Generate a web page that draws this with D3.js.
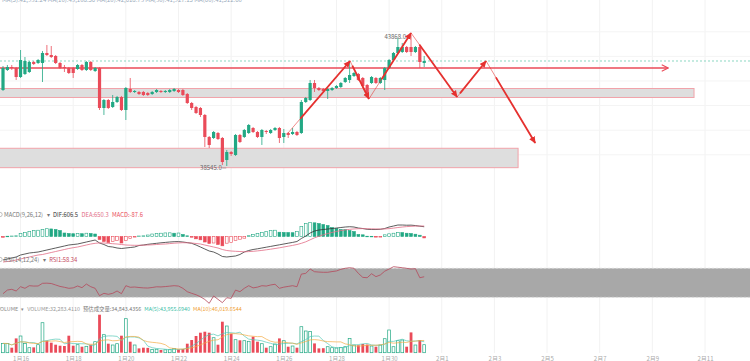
<!DOCTYPE html>
<html><head><meta charset="utf-8">
<script src="https://cdn.jsdelivr.net/npm/d3@7"></script>
<style>body{margin:0;background:#fff;overflow:hidden}svg{display:block;font-family:"Noto Sans CJK SC","Noto Sans",sans-serif}</style>
</head><body><svg id="c" width="750" height="361"></svg>
<script>
// ---- data (4h candles, index 0 = 1月15 08:00) ----
const opens=[41633,42446,42568,42527,42161,42283,42365,42771,42730,42730,43137,43055,43015,42730,42568,42527,42527,42487,42649,42446,42771,42405,42527,40902,41227,40943,41146,41349,40821,41674,41552,41552,41552,41511,41471,41552,41593,41552,41552,41593,41633,41633,41471,41105,40943,40902,40618,39724,39683,39886,39683,38789,39114,38992,39805,39724,39886,40089,39927,39724,39967,39886,40008,40089,39724,39886,39846,39927,39886,41146,41227,41918,41715,41674,41593,41633,41715,41755,41958,42040,42202,42283,42121,41836,41918,42121,41918,42040,42527,42852,43137,43177,43380,43380,43177,43380,42730];
const highs=[42608,42649,42649,42568,43258,42974,42812,42812,42893,43218,43462,43421,43055,42771,42649,42568,42568,42690,42690,42812,42812,42568,42568,41268,41268,41430,41390,41390,41755,42121,41633,41593,41593,41552,41593,41674,41633,41633,41674,41715,41674,41674,41511,41146,40983,40943,40658,39764,39967,39927,39724,39195,39155,39846,39846,40049,40252,40130,39967,40049,40008,40049,40130,40130,40049,39927,40089,39967,41227,41349,42040,42040,41755,41715,41715,41755,41836,41958,42161,42771,42365,42324,42161,41877,42202,42161,42161,42568,42893,43177,43746,43543,43421,43868,43421,43421,43015];
const lows=[41593,42405,42446,42040,42121,42243,42324,42649,42690,41958,43015,42933,42690,42487,42365,42283,42121,42446,42405,42405,42405,42365,40821,40618,40861,40902,41105,40780,40414,41511,41511,41430,41390,41390,41430,41511,41511,41511,41511,41552,41511,41390,41064,40821,40658,40536,39317,39277,39642,39602,38586,38545,38952,38952,39480,39683,39846,39886,39683,39399,39846,39846,39967,39480,39480,39683,39805,39764,39846,41105,41186,41552,41593,41552,41268,41593,41674,41715,41918,41918,42161,41999,41755,41349,41877,41877,41877,41633,42487,42812,43096,43137,43137,43015,43137,42527,42568];
const closes=[42527,42568,42527,42161,42852,42812,42771,42690,42852,43137,43055,42974,42730,42527,42527,42324,42324,42649,42446,42771,42446,42527,40902,41227,40902,41146,41349,40821,41715,41552,41593,41471,41430,41430,41552,41633,41552,41593,41633,41674,41552,41430,41105,40902,40699,40618,39724,39399,39927,39642,38708,39114,39033,39805,39521,40008,40211,39927,39724,40008,39927,40008,40089,39683,39886,39805,39927,39805,41146,41308,41918,41715,41633,41593,41674,41715,41796,41918,42121,42243,42324,42040,41796,41511,42161,41918,42121,42527,42852,43137,43380,43380,43177,43177,43380,42771,42812];
const volumes=[37500,36800,20200,57700,67400,37500,20200,21500,32300,121000,48400,40400,32300,28200,27000,68600,28200,32300,24200,25800,32300,44400,153300,72600,36300,31100,36300,68600,137200,44400,31100,17400,20200,19500,13300,14100,10900,11600,12100,17400,13300,15000,36300,51200,67400,80700,84700,80700,60500,32300,125100,107700,76700,52500,50000,48400,46000,64600,44400,36300,20200,24200,35100,57700,48400,24200,27000,20200,104900,87600,86000,37500,17400,18200,24200,20200,19000,21000,24200,57700,31100,30000,35100,33000,27000,24200,31100,56500,91600,24200,48400,51200,24200,81900,31100,51200,32283];
const difs=[-1457,-1395,-1333,-1271,-1147,-1085,-1023,-992,-961,-899,-837,-775,-713,-651,-589,-527,-496,-465,-403,-341,-279,-217,-403,-496,-620,-651,-713,-744,-713,-682,-651,-558,-527,-484,-453,-422,-391,-366,-341,-322,-316,-341,-378,-422,-527,-651,-775,-899,-961,-1085,-1240,-1271,-1240,-1209,-1116,-961,-868,-806,-763,-713,-663,-614,-564,-515,-465,-415,-366,-310,-124,31,217,341,403,434,465,496,527,558,589,608,589,527,496,446,434,434,446,496,589,651,713,713,701,705,680,640,606.5];
const deas=[-1581,-1550,-1519,-1457,-1395,-1333,-1271,-1209,-1147,-1116,-1054,-992,-930,-868,-806,-744,-694,-651,-589,-527,-465,-422,-395,-403,-422,-446,-465,-496,-527,-539,-546,-546,-539,-527,-515,-496,-477,-465,-440,-415,-397,-384,-391,-403,-434,-465,-527,-589,-651,-713,-806,-868,-899,-918,-930,-949,-936,-918,-893,-862,-825,-787,-744,-701,-651,-601,-552,-496,-422,-329,-205,-81,19,105,186,254,316,366,409,446,471,484,490,484,477,471,465,471,490,521,558,589,614,632,645,651,650.3];
const macds=[-45,20,30,45,186,248,310,372,390,434,484,470,434,372,217,186,174,186,174,205,186,155,-186,-310,-372,-310,-248,-403,-248,-124,-31,31,43,93,155,186,205,223,229,205,217,124,43,-43,-143,-205,-341,-434,-403,-496,-577,-415,-372,-248,-167,-105,50,124,186,248,310,372,391,267,254,248,236,310,620,806,868,850,806,744,682,558,496,434,428,372,310,124,105,19,15,-19,-15,105,167,205,248,245,205,186,143,81,-87.6];
const rsis=[35,40,41,38.7,44.6,42.4,46,45.5,45.6,49.3,49.5,49,47,45,43.8,42.4,43,45.6,43.3,48.3,44.6,42.4,32.2,35.5,34.1,35.5,38.7,35,46,43.8,44.2,43.5,43,42.8,43.5,44.5,44.3,44.8,45.4,46,45.5,42.4,37.7,35.5,33.5,30.8,27,21.7,31.8,27.2,22.6,29.4,28.6,40,37.7,42.4,46,43,44,46,45.5,47,48,42.4,44,45,46,44.6,62,63,69,65.3,64.8,64.5,64.5,65.5,66.3,68.6,70,70.8,70,63,57.5,57,62.5,58.5,60.8,66,69,72.2,71.5,70.8,70,69,69.5,57,58.34];
const dateLabels=["1月16","1月18","1月20","1月22","1月24","1月26","1月28","1月30","2月1","2月3","2月5","2月7","2月9","2月11"];
const dateIdx=dateLabels.map((d,i)=>4+12*i);
// drawings (index, price)
const zones=[{i0:-3,i1:157.5,p0:41694,p1:41329},{i0:-3,i1:117.4,p0:39265,p1:38477}];
const resistance={i0:-3,i1:151.6,p:42527};
const zigzag=[[64.96,39886],[79.1,42812],[83.4,41268],[93.0,43950],[103.5,41349],[110.1,42812],[121.3,39480]];
const thinFrac=[0.2,0.12,0.3,0.18,0.1,0.2];

const svg=d3.select('#c');
const n=closes.length;
const UP='#22a884',DN='#ea4b59',AR='#e5312f';
const x=d3.scaleLinear().domain([0,160]).range([3,705]);
const yP=d3.scaleLinear().domain([38545,43868]).range([166,35]);
const yM=d3.scaleLinear().domain([-1600,1000]).range([262.3,220.4]);
const yR=d3.scaleLinear().domain([30,70]).range([297.3,268.3]);
const yV=d3.scaleLinear().domain([0,160000]).range([352.7,313.05]);
const idx=d3.range(n);

const defs=svg.append('defs');
defs.append('marker').attr('id','ah').attr('viewBox','0 0 10 10').attr('refX',9).attr('refY',5)
 .attr('markerWidth',7).attr('markerHeight',7).attr('markerUnits','userSpaceOnUse').attr('orient','auto')
 .append('path').attr('d','M0,0.5L10,5L0,9.5Z').attr('fill',AR);
defs.append('marker').attr('id','ch').attr('viewBox','0 0 10 10').attr('refX',9).attr('refY',5)
 .attr('markerWidth',8).attr('markerHeight',8).attr('markerUnits','userSpaceOnUse').attr('orient','auto')
 .append('path').attr('d','M1,1L9,5L1,9').attr('fill','none').attr('stroke',DN).attr('stroke-width',1.3);

// grid
const g=svg.append('g');
g.selectAll('.vg').data(dateIdx).join('line').attr('x1',d=>x(d)).attr('x2',d=>x(d)).attr('y1',0).attr('y2',353).attr('stroke','#f2f2f2');
g.selectAll('.hg').data([39000,40000,41000,42000,43000,44000]).join('line').attr('x1',0).attr('x2',750).attr('y1',d=>yP(d)).attr('y2',d=>yP(d)).attr('stroke','#f4f4f4');

// top cut text
svg.append('text').attr('x',2).attr('y',2).attr('font-size',6).attr('fill','#9ab').text('MA(5):42,931.24   MA(10):43,108.56   MA(20):42,618.73   MA(30):41,927.15   MA(60):41,512.60');

// zones
svg.selectAll('.zone').data(zones).join('rect').attr('x',d=>x(d.i0)).attr('width',d=>x(d.i1)-x(d.i0))
 .attr('y',d=>yP(d.p0)).attr('height',d=>yP(d.p1)-yP(d.p0)).attr('fill','#dedede').attr('stroke','#f1a3aa').attr('stroke-width',1);
// current price dashed
svg.append('line').attr('x1',0).attr('x2',750).attr('y1',yP(closes[n-1])).attr('y2',yP(closes[n-1]))
 .attr('stroke','#6fcdb2').attr('stroke-dasharray','2,2').attr('stroke-width',0.8);
// resistance
svg.append('line').attr('x1',x(resistance.i0)).attr('x2',x(resistance.i1)).attr('y1',yP(resistance.p)).attr('y2',yP(resistance.p))
 .attr('stroke',DN).attr('stroke-width',1.4).attr('marker-end','url(#ch)');

// candles
const cg=svg.append('g');
cg.selectAll('line').data(idx).join('line').attr('x1',i=>x(i)).attr('x2',i=>x(i)).attr('y1',i=>yP(highs[i])).attr('y2',i=>yP(lows[i]))
 .attr('stroke',i=>closes[i]>=opens[i]?UP:DN).attr('stroke-width',0.8);
cg.selectAll('rect').data(idx).join('rect').attr('x',i=>x(i)-1.6).attr('width',3.2)
 .attr('y',i=>yP(Math.max(opens[i],closes[i]))).attr('height',i=>Math.max(0.8,Math.abs(yP(opens[i])-yP(closes[i]))))
 .attr('fill',i=>closes[i]>=opens[i]?UP:DN);

// hi / lo labels
const hiI=d3.maxIndex(highs), loI=d3.minIndex(lows);
svg.append('line').attr('x1',x(hiI)-4.5).attr('x2',x(hiI)-0.5).attr('y1',yP(highs[hiI])+2).attr('y2',yP(highs[hiI])+2).attr('stroke','#888').attr('stroke-width',0.6);
svg.append('text').attr('x',x(hiI)-5).attr('y',yP(highs[hiI])+4).attr('text-anchor','end').attr('font-size',6).attr('fill','#666').text(d3.format('.1f')(highs[hiI]));
svg.append('line').attr('x1',x(loI)-4.5).attr('x2',x(loI)-0.5).attr('y1',yP(lows[loI])+2).attr('y2',yP(lows[loI])+2).attr('stroke','#888').attr('stroke-width',0.6);
svg.append('text').attr('x',x(loI)-5).attr('y',yP(lows[loI])+4).attr('text-anchor','end').attr('font-size',6).attr('fill','#666').text(d3.format('.1f')(lows[loI]));

// zigzag arrows
const pts=zigzag.map(d=>[x(d[0]),yP(d[1])]);
svg.append('path').attr('d',d3.line()(pts)).attr('fill','none').attr('stroke',AR).attr('stroke-width',0.7).attr('opacity',0.8);
for(let s=0;s<pts.length-1;s++){
  const [a,b]=[pts[s],pts[s+1]],t=thinFrac[s];
  const sx=a[0]+(b[0]-a[0])*t, sy=a[1]+(b[1]-a[1])*t;
  svg.append('line').attr('x1',sx).attr('y1',sy).attr('x2',b[0]).attr('y2',b[1]).attr('stroke',AR).attr('stroke-width',1.8).attr('marker-end','url(#ah)');
}

// header helper: lays texts out one after another
function hdr(x0,y,fs,gap,items){
  let cx=x0;
  items.forEach(it=>{
    const t=svg.append('text').attr('x',cx).attr('y',y).attr('font-size',fs).attr('fill',it[1]).text(it[0]);
    cx+=t.node().getComputedTextLength()+gap;
  });
}

// ---- MACD ----
svg.append('circle').attr('cx',0).attr('cy',214.5).attr('r',2.2).attr('fill','none').attr('stroke','#999').attr('stroke-width',0.6);
hdr(4,217,5.8,3.5,[['MACD(9,26,12)','#777'],['▾','#777'],['DIF:'+difs[n-1],'#333'],['DEA:'+deas[n-1],'#e26d86'],['MACD:'+macds[n-1],'#ea4b59']]);
svg.selectAll('.mb').data(idx).join('rect').attr('class','mb')
 .attr('x',i=>x(i)-1.4).attr('width',2.8)
 .attr('y',i=>Math.min(yM(0),yM(macds[i]))).attr('height',i=>Math.max(0.6,Math.abs(yM(macds[i])-yM(0))))
 .attr('fill',i=>{const inc=i>0&&macds[i]>macds[i-1];return inc?'#fff':(macds[i]>=0?UP:DN);})
 .attr('stroke',i=>macds[i]>=0?UP:DN).attr('stroke-width',0.6);
svg.append('path').attr('d',d3.line().x(i=>x(i)).y(i=>yM(difs[i]))(idx)).attr('fill','none').attr('stroke','#333').attr('stroke-width',0.8);
svg.append('path').attr('d',d3.line().x(i=>x(i)).y(i=>yM(deas[i]))(idx)).attr('fill','none').attr('stroke','#e26d86').attr('stroke-width',0.8);

// ---- RSI ----
svg.append('circle').attr('cx',0).attr('cy',259.5).attr('r',2.2).attr('fill','none').attr('stroke','#999').attr('stroke-width',0.6);
hdr(4,262,5.8,3.5,[['RSI(14,12,24)','#777'],['▾','#777'],['RSI1:'+rsis[n-1],'#c4475a']]);
svg.append('rect').attr('x',0).attr('width',750).attr('y',yR(70)).attr('height',yR(30)-yR(70)).attr('fill','#a8a8a8');
[70,30].forEach(v=>svg.append('line').attr('x1',0).attr('x2',750).attr('y1',yR(v)).attr('y2',yR(v)).attr('stroke','#d6d6d6').attr('stroke-dasharray','2,2').attr('stroke-width',0.8));
svg.append('path').attr('d',d3.line().x(i=>x(i)).y(i=>yR(rsis[i]))(idx)).attr('fill','none').attr('stroke','#b5475a').attr('stroke-width',0.8);

// ---- Volume ----
hdr(-3,311,5.4,3,[['VOLUME','#888'],['▾','#888'],['VOLUME:32,283.4110','#999'],['预估成交量:34,843.4356','#777'],['MA(5):43,955.6940','#3cc0a8'],['MA(10):46,019.6544','#f0a030']]);
svg.selectAll('.vb').data(idx).join('rect').attr('class','vb')
 .attr('x',i=>x(i)-1.4).attr('width',2.8).attr('y',i=>yV(volumes[i])).attr('height',i=>yV(0)-yV(volumes[i]))
 .attr('fill',i=>closes[i]>=opens[i]?'#fff':DN).attr('stroke',i=>closes[i]>=opens[i]?UP:'none').attr('stroke-width',0.7);
const ma=(k)=>idx.map(i=>d3.mean(volumes.slice(Math.max(0,i-k+1),i+1)));
const ma5=ma(5),ma10=ma(10);
svg.append('path').attr('d',d3.line().x(i=>x(i)).y(i=>yV(ma5[i]))(idx)).attr('fill','none').attr('stroke','#55c9b6').attr('stroke-width',0.7);
svg.append('path').attr('d',d3.line().x(i=>x(i)).y(i=>yV(ma10[i]))(idx)).attr('fill','none').attr('stroke','#f3ac45').attr('stroke-width',0.7);

// date axis
const ax=d3.axisBottom(x).tickValues(dateIdx).tickFormat((d,i)=>dateLabels[i]).tickSize(0);
const axg=svg.append('g').attr('transform','translate(0,355)').call(ax);
axg.select('.domain').remove();
axg.selectAll('text').attr('font-size',6).attr('fill','#aaa').attr('font-family','"Noto Sans CJK SC",sans-serif').attr('dy','0.55em');
</script></body></html>
